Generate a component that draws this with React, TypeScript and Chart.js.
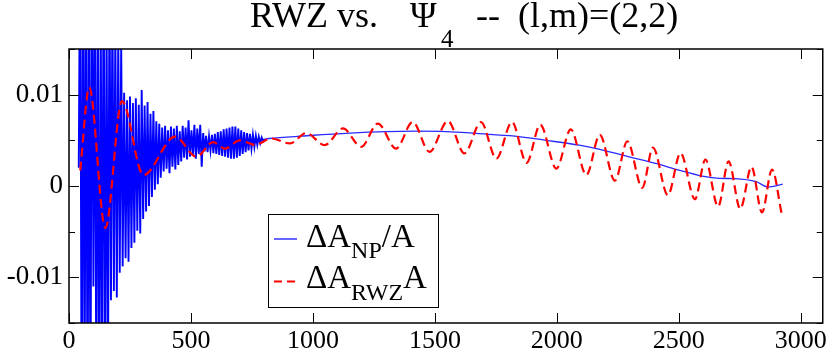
import React, { useEffect, useRef } from "react";
import { Chart, registerables } from "chart.js";

Chart.register(...registerables);

// ---- data ----
const xTickValues = [0, 500, 1000, 1500, 2000, 2500, 3000];
const yTickValues = [-0.015, -0.01, -0.005, 0, 0.005, 0.01, 0.015];
const yTickLabels = ["-0.01", "0", "0.01"];

// ΔA_NP/A : noisy early part (alternating extremes)
const npNoise: [number, number][] = [
  [40, 0.002], [46, 0.03], [52, -0.03], [58, 0.028], [64, -0.026], [70, 0.03], [76, -0.03], [82, 0.025], [88, -0.028], [94, 0.03],
  [100, -0.011], [106, 0.022],
  [112, -0.024], [118, 0.026], [124, -0.03], [130, 0.02], [136, -0.022], [142, 0.028], [148, -0.026], [154, 0.019], [160, -0.021], [166, 0.024],
  [172, -0.0125], [178, 0.021], [184, -0.0115], [190, 0.018], [196, -0.0122], [202, 0.017], [208, -0.0095], [214, 0.0155],
  [220, -0.0088], [226, 0.0102], [232, -0.0079], [238, 0.0094], [244, -0.0083], [250, 0.0098], [256, -0.0068], [262, 0.0091], [268, -0.0062], [274, 0.0096], [280, -0.0049], [286, 0.0089], [292, -0.0052],
  [298, 0.0105], [304, -0.0036], [310, 0.0088], [316, -0.0028], [322, 0.0092], [328, -0.0022], [334, 0.0079], [340, -0.0012], [346, 0.0082], [352, -0.0004], [358, 0.0071], [364, 0.0002], [370, 0.0068], [376, 0.0009],
  [382, 0.0064], [388, 0.0016], [394, 0.0066], [400, 0.0019], [406, 0.0061], [412, 0.0014], [418, 0.0065], [424, 0.0021], [430, 0.0063], [436, 0.0018], [442, 0.0066], [448, 0.0023], [454, 0.006],
  [460, 0.0027], [466, 0.0066], [472, 0.0031], [478, 0.0064], [484, 0.0029], [490, 0.0072], [496, 0.0032], [502, 0.0061], [508, 0.0034], [514, 0.0067], [520, 0.003], [526, 0.0063], [532, 0.0035], [538, 0.0067], [544, 0.0021], [550, 0.0058],
  [556, 0.0038], [562, 0.0055], [568, 0.0037], [574, 0.0054], [580, 0.0039], [586, 0.0056], [592, 0.0036], [598, 0.0057], [604, 0.0035], [610, 0.0059], [616, 0.0034],
  [622, 0.006], [628, 0.0033], [634, 0.0062], [640, 0.0032], [646, 0.0063], [652, 0.0031], [658, 0.0064], [664, 0.003], [670, 0.0065], [676, 0.003], [682, 0.0065], [688, 0.0031], [694, 0.0063], [700, 0.0033], [706, 0.0061], [712, 0.0035], [718, 0.0059], [724, 0.0037],
  [730, 0.0058], [736, 0.0039], [742, 0.0057], [748, 0.0041], [754, 0.0056], [760, 0.0043], [766, 0.0055], [772, 0.0045], [778, 0.0054], [784, 0.0047], [790, 0.0053], [796, 0.0049], [802, 0.00515],
];

// ΔA_NP/A : smooth late part
const npSmooth: [number, number][] = [
  [802, 0.00515], [820, 0.0052], [946, 0.00545], [1150, 0.0058], [1423, 0.006], [1628, 0.00585], [1764, 0.00556], [1818, 0.00549],
  [1955, 0.005], [2091, 0.00447], [2200, 0.00385], [2296, 0.0032], [2405, 0.00247], [2500, 0.00174], [2596, 0.00109],
  [2667, 0.00084], [2728, 0.0008], [2817, 0.00047], [2865, -0.0001], [2926, 0.0002],
];

// ΔA_RWZ A : extremes of the oscillation
const rwz: [number, number][] = [
  [46, 0.0017], [83, 0.0108], [149, -0.0046], [217, 0.0093], [305, 0.0012], [435, 0.0054], [523, 0.0032], [590, 0.0048],
  [640, 0.0041], [700, 0.005], [762, 0.0045], [830, 0.0052], [906, 0.00466], [973, 0.0058], [1048, 0.00447], [1123, 0.0063],
  [1198, 0.00429], [1266, 0.00684], [1341, 0.0041], [1409, 0.007], [1478, 0.00374], [1553, 0.00712], [1621, 0.00357],
  [1689, 0.007], [1752, 0.003], [1816, 0.007], [1876, 0.00254], [1932, 0.0067], [1998, 0.0019], [2057, 0.0062],
  [2121, 0.0012], [2176, 0.0056], [2238, 0.00058], [2289, 0.0049], [2350, -0.0002], [2394, 0.0042], [2455, -0.001],
  [2507, 0.0036], [2566, -0.00145], [2609, 0.0029], [2661, -0.00225], [2704, 0.0027], [2752, -0.0025], [2798, 0.0021],
  [2841, -0.0029], [2882, 0.0018], [2922, -0.0031],
];

const FONT = "'Liberation Serif', 'Times New Roman', serif";

type Part = { t: string; size: number; dy: number; x?: number };

function drawRich(ctx: CanvasRenderingContext2D, x: number, y: number, parts: Part[]) {
  let cx = x;
  for (const p of parts) {
    if (p.x !== undefined) cx = p.x;
    ctx.font = `${p.size}px ${FONT}`;
    ctx.fillText(p.t, cx, y + p.dy);
    cx += ctx.measureText(p.t).width;
  }
}

const decorPlugin = {
  id: "decor",
  afterDraw(chart: any) {
    const ctx: CanvasRenderingContext2D = chart.ctx;
    const { left, right, top, bottom } = chart.chartArea;
    const xs = chart.scales.x;
    const ys = chart.scales.y;
    ctx.save();
    // frame
    ctx.strokeStyle = "#000";
    ctx.lineWidth = 1.5;
    ctx.strokeRect(left, top, right - left, bottom - top);
    // inward ticks
    ctx.lineWidth = 1;
    ctx.beginPath();
    for (const t of xs.ticks) {
      const p = Math.round(xs.getPixelForValue(t.value)) + 0.5;
      ctx.moveTo(p, bottom);
      ctx.lineTo(p, bottom - 10);
      ctx.moveTo(p, top);
      ctx.lineTo(p, top + 10);
    }
    for (const t of ys.ticks) {
      const major = Math.abs(t.value / 0.01 - Math.round(t.value / 0.01)) < 1e-6;
      const len = major ? 10 : 6;
      const p = Math.round(ys.getPixelForValue(t.value)) + 0.5;
      ctx.moveTo(left, p);
      ctx.lineTo(left + len, p);
      ctx.moveTo(right, p);
      ctx.lineTo(right - len, p);
    }
    ctx.stroke();

    // title
    ctx.fillStyle = "#000";
    ctx.textBaseline = "alphabetic";
    ctx.textAlign = "left";
    drawRich(ctx, 250, 27, [
      { t: "RWZ vs.", size: 36, dy: 0 },
      { t: "Ψ", size: 36, dy: 0, x: 410 },
      { t: "4", size: 25, dy: 20, x: 441 },
      { t: "--", size: 36, dy: 0, x: 476 },
      { t: "(l,m)=(2,2)", size: 36, dy: 0, x: 518 },
    ]);

    // legend box
    const lx = left + 199, ly = top + 165, lw = 170, lh = 93;
    ctx.fillStyle = "#fff";
    ctx.fillRect(lx, ly, lw, lh);
    ctx.strokeStyle = "#000";
    ctx.lineWidth = 1;
    ctx.strokeRect(lx + 0.5, ly + 0.5, lw, lh);
    ctx.strokeStyle = "#0000ff";
    ctx.lineWidth = 1.2;
    ctx.beginPath();
    ctx.moveTo(lx + 6, ly + 25);
    ctx.lineTo(lx + 29, ly + 25);
    ctx.stroke();
    ctx.strokeStyle = "#ff0000";
    ctx.lineWidth = 2;
    ctx.setLineDash([8, 5]);
    ctx.beginPath();
    ctx.moveTo(lx + 6, ly + 67.5);
    ctx.lineTo(lx + 29, ly + 67.5);
    ctx.stroke();
    ctx.setLineDash([]);
    ctx.fillStyle = "#000";
    drawRich(ctx, lx + 38, ly + 32.5, [
      { t: "ΔA", size: 33, dy: 0 },
      { t: "NP", size: 24, dy: 11 },
      { t: "/A", size: 33, dy: 0 },
    ]);
    drawRich(ctx, lx + 38, ly + 74, [
      { t: "ΔA", size: 33, dy: 0 },
      { t: "RWZ", size: 24, dy: 12 },
      { t: "A", size: 33, dy: 0 },
    ]);
    ctx.restore();
  },
};

export default function App() {
  const ref = useRef<HTMLCanvasElement | null>(null);
  useEffect(() => {
    document.body.style.margin = "0";
    const canvas = ref.current;
    if (!canvas) return;
    const toPts = (a: [number, number][]) => a.map(([x, y]) => ({ x, y }));
    const chart = new Chart(canvas, {
      type: "line",
      data: {
        datasets: [
          {
            label: "ΔA_NP/A (early)",
            data: toPts(npNoise),
            borderColor: "#0000ff",
            borderWidth: 1.9,
            pointRadius: 0,
            tension: 0,
            order: 3,
          },
          {
            label: "ΔA_NP/A",
            data: toPts(npSmooth),
            borderColor: "#2a2aff",
            borderWidth: 1.3,
            pointRadius: 0,
            cubicInterpolationMode: "monotone",
            order: 2,
          },
          {
            label: "ΔA_RWZ A",
            data: toPts(rwz),
            borderColor: "#ff0000",
            borderWidth: 2.2,
            borderDash: [9, 5],
            pointRadius: 0,
            cubicInterpolationMode: "monotone",
            order: 1,
          },
        ],
      },
      options: {
        responsive: false,
        animation: false,
        events: [],
        layout: { padding: { top: 49, right: 7, left: 0, bottom: 0 } },
        plugins: { legend: { display: false }, title: { display: false }, tooltip: { enabled: false } },
        scales: {
          x: {
            type: "linear",
            min: 0,
            max: 3090,
            afterFit: (s: any) => { s.height = 28; },
            afterBuildTicks: (s: any) => { s.ticks = xTickValues.map((v) => ({ value: v })); },
            grid: { display: false, drawTicks: false, tickLength: 0 },
            border: { display: false },
            ticks: {
              autoSkip: false,
              maxRotation: 0,
              padding: 3,
              color: "#000",
              font: { family: FONT, size: 26 },
              callback: (v: any) => String(v),
            },
          },
          y: {
            type: "linear",
            min: -0.015,
            max: 0.015,
            afterFit: (s: any) => { s.width = 69; },
            afterBuildTicks: (s: any) => { s.ticks = yTickValues.map((v) => ({ value: v })); },
            grid: { display: false, drawTicks: false, tickLength: 0 },
            border: { display: false },
            ticks: {
              autoSkip: false,
              padding: 6,
              color: "#000",
              font: { family: FONT, size: 27 },
              callback: (v: any) => {
                const n = Math.round(Number(v) * 1000) / 1000;
                const s = n === 0 ? "0" : String(n);
                return yTickLabels.includes(s) ? s : "";
              },
            },
          },
        },
      },
      plugins: [decorPlugin],
    });
    return () => chart.destroy();
  }, []);
  return <canvas ref={ref} width={830} height={351} style={{ display: "block" }} />;
}
